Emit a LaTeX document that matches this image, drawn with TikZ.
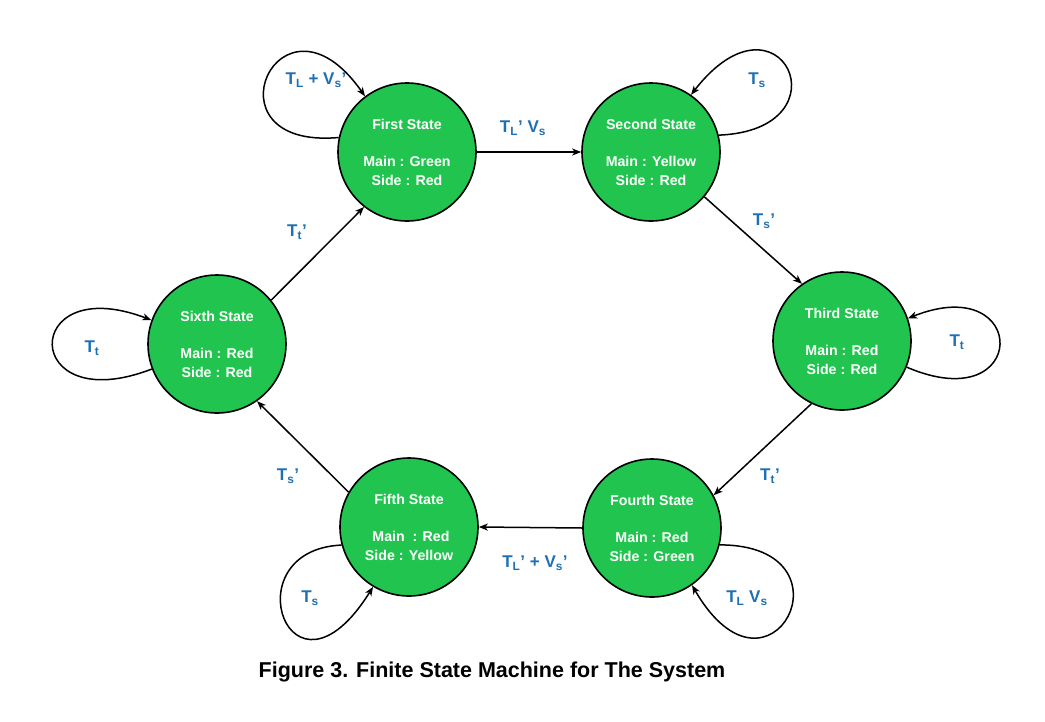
\documentclass[tikz,border=0pt]{standalone}
\usepackage{fontspec}
\setmainfont{Liberation Sans}
\usetikzlibrary{arrows.meta}
\definecolor{stategreen}{RGB}{32,196,78}
\definecolor{lblblue}{RGB}{30,112,180}
\newcommand{\sbs}[1]{\textsubscript{#1}}
\begin{document}
\begin{tikzpicture}[x=1pt,y=1pt,
  statebox/.style={circle,draw=black,line width=1.6pt,fill=stategreen,minimum size=138pt,inner sep=0pt,
    text=white,font=\bfseries\fontsize{14.2}{19}\selectfont,align=center},
  lbl/.style={text=lblblue,font=\bfseries\fontsize{17}{19}\selectfont,inner sep=1pt},
  edge/.style={line width=1.5pt,-{Stealth[length=9pt,width=7pt,inset=2.5pt]}}]
\fill[white] (0,0) rectangle (1045,-721);
\useasboundingbox (0,0) rectangle (1045,-721);

\node[statebox] (s1) at (407,-152) {First State\\[18pt]Main : Green\\Side : Red};
\node[statebox] (s2) at (651,-152) {Second State\\[18pt]Main : Yellow\\Side : Red};
\node[statebox] (s3) at (842,-341) {Third State\\[18pt]Main : Red\\Side : Red};
\node[statebox] (s4) at (652,-528) {Fourth State\\[18pt]Main : Red\\Side : Green};
\node[statebox] (s5) at (409,-527) {Fifth State\\[18pt]\ Main~ : Red\\Side : Yellow};
\node[statebox] (s6) at (217,-344) {Sixth State\\[18pt]Main : Red\\Side : Red};

% transitions
\draw[edge] (s1.0) -- (s2.180);
\draw[edge] (s2.-40) -- (s3.125);
\draw[edge] (s3.244) -- (s4.28);
\draw[edge] (s4.180) -- (s5.0);
\draw[edge] (s5.150) -- (s6.305);
\draw[edge] (s6.39) -- (s1.232);

% self loops
\draw[edge] (s1.168) .. controls (200,-150) and (280,25) .. (s1.127);
\draw[edge] (s2.14) .. controls (850,-130) and (780,20) .. (s2.55);
\draw[edge] (s3.-22) .. controls (1030,-420) and (1030,-270) .. (s3.19);
\draw[edge] (s4.-14) .. controls (860,-545) and (770,-720) .. (s4.-55);
\draw[edge] (s5.195) .. controls (230,-550) and (290,-720) .. (s5.239);
\draw[edge] (s6.201) .. controls (20,-420) and (20,-270) .. (s6.160);

% labels
\node[lbl] (l1) at (316,-80) {T\sbs{L} + V\sbs{s}'};
\node[lbl] (l2) at (523,-128) {T\sbs{L}' V\sbs{s}};
\node[lbl] (l3) at (757,-80) {T\sbs{s}};
\node[lbl] (l4) at (764,-221) {T\sbs{s}'};
\node[lbl] (l5) at (957,-342) {T\sbs{t}};
\node[lbl] (l6) at (770,-476) {T\sbs{t}'};
\node[lbl] (l7) at (747,-598) {T\sbs{L} V\sbs{s}};
\node[lbl] (l8) at (535,-563) {T\sbs{L}' + V\sbs{s}'};
\node[lbl] (l9) at (310,-598) {T\sbs{s}};
\node[lbl] (l10) at (288,-476) {T\sbs{s}'};
\node[lbl] (l11) at (92,-348) {T\sbs{t}};
\node[lbl] (l12) at (297,-232) {T\sbs{t}'};

\node[font=\bfseries\fontsize{21.5}{24}\selectfont,text=black] (cap) at (492,-672) {Figure 3. Finite State Machine for The System};
\end{tikzpicture}
\end{document}
